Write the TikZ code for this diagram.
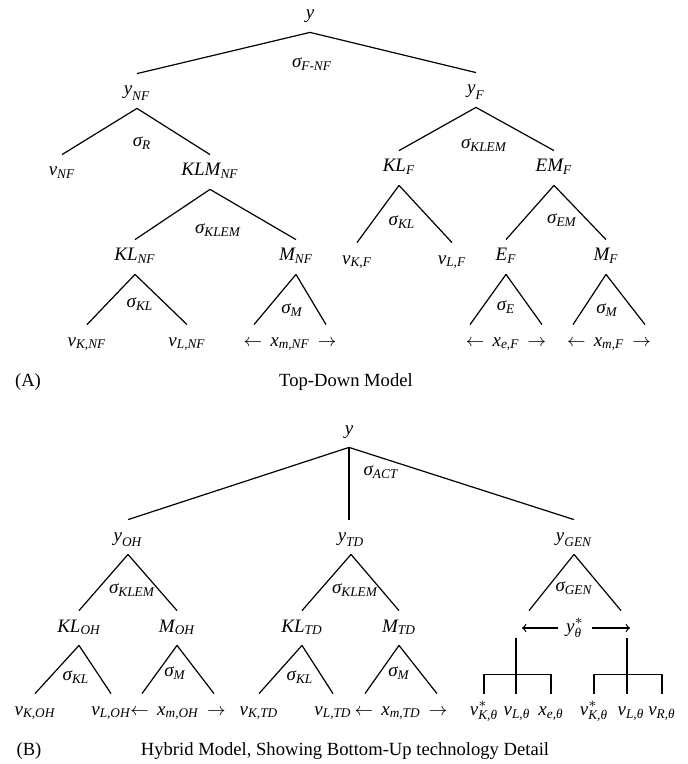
\documentclass[tikz,border=0pt]{standalone}
\usepackage{amsmath}
\usepackage{fontspec}
\setmainfont{Liberation Serif}
\usepackage{tikz}
\newcommand{\ti}[1]{\textit{#1}}
\newcommand{\lbl}[2]{$\ti{#1}_{\ti{#2}}$}
\newcommand{\sig}[1]{$\ti{σ}_{\ti{#1}}$}
\newcommand{\arr}[2]{$\leftarrow\,\ti{#1}_{\ti{#2}}\,\rightarrow$}
\tikzset{
    tree-label/.style = {inner xsep=1pt, inner ysep=3.5pt, text height=7pt, text depth=3pt, font=\fontsize{9.5}{11}\selectfont},
    sigma-label/.style = {inner sep=0pt, font=\fontsize{9.5}{11}\selectfont},
    caption-text/.style = {inner sep=0pt, font=\fontsize{9.3}{11}\selectfont},
    tree-line/.style = {line width=0.6pt},
}

\begin{document}
\begin{tikzpicture}[x=0.5pt, y=0.5pt]
\useasboundingbox (0,0) rectangle (688,-764);
% (A) top-down model
\node[tree-label] (yA) at (310,-15) {$\ti{y}$};
\node[tree-label] (yNF) at (137,-91) {\lbl{y}{NF}};
\node[tree-label] (yF) at (476,-90) {\lbl{y}{F}};
\node[tree-label] (vNF) at (62,-172) {\lbl{v}{NF}};
\node[tree-label] (KLMNF) at (210,-172) {\lbl{KLM}{NF}};
\node[tree-label] (KLNF) at (135,-257) {\lbl{KL}{NF}};
\node[tree-label] (MNF) at (296,-257) {\lbl{M}{NF}};
\node[tree-label] (vKNF) at (87,-342) {\lbl{v}{K,NF}};
\node[tree-label] (vLNF) at (187,-342) {\lbl{v}{L,NF}};
\node[tree-label] (xmNF) at (290,-342) {\arr{x}{m,NF}};
\node[tree-label] (KLF) at (399,-168) {\lbl{KL}{F}};
\node[tree-label] (EMF) at (554,-168) {\lbl{EM}{F}};
\node[tree-label] (vKF) at (357,-260) {\lbl{v}{K,F}};
\node[tree-label] (vLF) at (452,-260) {\lbl{v}{L,F}};
\node[tree-label] (EF) at (506,-257) {\lbl{E}{F}};
\node[tree-label] (MF) at (606,-257) {\lbl{M}{F}};
\node[tree-label] (xeF) at (506,-342) {\arr{x}{e,F}};
\node[tree-label] (xmF) at (609,-342) {\arr{x}{m,F}};

\node[sigma-label] at (312,-64) {\sig{F-NF}};
\node[sigma-label] at (142,-143) {\sig{R}};
\node[sigma-label] at (218,-230) {\sig{KLEM}};
\node[sigma-label] at (140,-304) {\sig{KL}};
\node[sigma-label] at (292,-310) {\sig{M}};
\node[sigma-label] at (484,-145) {\sig{KLEM}};
\node[sigma-label] at (402,-222) {\sig{KL}};
\node[sigma-label] at (562,-220) {\sig{EM}};
\node[sigma-label] at (506,-307) {\sig{E}};
\node[sigma-label] at (607,-310) {\sig{M}};

\draw[tree-line] (yA.south) -- (yNF.north);
\draw[tree-line] (yA.south) -- (yF.north);
\draw[tree-line] (yNF.south) -- (vNF.north);
\draw[tree-line] (yNF.south) -- (KLMNF.north);
\draw[tree-line] (KLMNF.south) -- (KLNF.north);
\draw[tree-line] (KLMNF.south) -- (MNF.north);
\draw[tree-line] (KLNF.south) -- (vKNF.north);
\draw[tree-line] (KLNF.south) -- (vLNF.north);
\draw[tree-line] (MNF.south) -- ([xshift=-18pt]xmNF.north);
\draw[tree-line] (MNF.south) -- ([xshift=18pt]xmNF.north);
\draw[tree-line] (yF.south) -- (KLF.north);
\draw[tree-line] (yF.south) -- (EMF.north);
\draw[tree-line] (KLF.south) -- (vKF.north);
\draw[tree-line] (KLF.south) -- (vLF.north);
\draw[tree-line] (EMF.south) -- (EF.north);
\draw[tree-line] (EMF.south) -- (MF.north);
\draw[tree-line] (EF.south) -- ([xshift=-18pt]xeF.north);
\draw[tree-line] (EF.south) -- ([xshift=18pt]xeF.north);
\draw[tree-line] (MF.south) -- ([xshift=-18pt]xmF.north);
\draw[tree-line] (MF.south) -- ([xshift=18pt]xmF.north);

\node[caption-text] (capA) at (28,-382) {(A)};
\node[caption-text] (titleA) at (346,-382) {Top-Down Model};

% (B) hybrid model
\node[tree-label] (yB) at (349,-430) {$\ti{y}$};
\node[tree-label] (yOH) at (128,-537) {\lbl{y}{OH}};
\node[tree-label] (yTD) at (351,-537) {\lbl{y}{TD}};
\node[tree-label] (yGEN) at (574,-537) {\lbl{y}{GEN}};
\node[tree-label] (KLOH) at (79,-628) {\lbl{KL}{OH}};
\node[tree-label] (MOH) at (177,-628) {\lbl{M}{OH}};
\node[tree-label] (KLTD) at (302,-628) {\lbl{KL}{TD}};
\node[tree-label] (MTD) at (399,-628) {\lbl{M}{TD}};
\node[tree-label, inner xsep=4pt] (ystar) at (575,-628) {$\ti{y}^{*}_{\ti{θ}}$};
\node[tree-label] (vKOH) at (35,-711) {\lbl{v}{K,OH}};
\node[tree-label] (vLOH) at (111,-711) {\lbl{v}{L,OH}};
\node[tree-label] (xmOH) at (178,-711) {\arr{x}{m,OH}};
\node[tree-label] (vKTD) at (259,-711) {\lbl{v}{K,TD}};
\node[tree-label] (vLTD) at (333,-711) {\lbl{v}{L,TD}};
\node[tree-label] (xmTD) at (401,-711) {\arr{x}{m,TD}};
\node[tree-label] (vsKa) at (484,-711) {$\ti{v}^{*}_{\ti{K,θ}}$};
\node[tree-label] (vLa) at (517,-711) {\lbl{v}{L,θ}};
\node[tree-label] (xea) at (551,-711) {\lbl{x}{e,θ}};
\node[tree-label] (vsKb) at (594,-711) {$\ti{v}^{*}_{\ti{K,θ}}$};
\node[tree-label] (vLb) at (631,-711) {\lbl{v}{L,θ}};
\node[tree-label] (vRb) at (662,-711) {\lbl{v}{R,θ}};
\coordinate (ystarL) at (522,-628);
\coordinate (ystarR) at (630,-628);
\coordinate (brA) at (516,-638);
\coordinate (brB) at (627,-638);

\node[sigma-label] at (381,-472) {\sig{ACT}};
\node[sigma-label] at (132,-590) {\sig{KLEM}};
\node[sigma-label] at (355,-590) {\sig{KLEM}};
\node[sigma-label] at (574,-588) {\sig{GEN}};
\node[sigma-label] at (76,-677) {\sig{KL}};
\node[sigma-label] at (175,-673) {\sig{M}};
\node[sigma-label] at (300,-677) {\sig{KL}};
\node[sigma-label] at (399,-673) {\sig{M}};

\draw[tree-line] (yB.south) -- (yOH.north);
\draw[tree-line] (yB.south) -- (yB.south |- yTD.north);
\draw[tree-line] (yB.south) -- (yGEN.north);
\draw[tree-line] (yOH.south) -- (KLOH.north);
\draw[tree-line] (yOH.south) -- (MOH.north);
\draw[tree-line] (KLOH.south) -- (vKOH.north);
\draw[tree-line] (KLOH.south) -- (vLOH.north);
\draw[tree-line] (MOH.south) -- ([xshift=-18pt]xmOH.north);
\draw[tree-line] (MOH.south) -- ([xshift=18pt]xmOH.north);
\draw[tree-line] (yTD.south) -- (KLTD.north);
\draw[tree-line] (yTD.south) -- (MTD.north);
\draw[tree-line] (KLTD.south) -- (vKTD.north);
\draw[tree-line] (KLTD.south) -- (vLTD.north);
\draw[tree-line] (MTD.south) -- ([xshift=-18pt]xmTD.north);
\draw[tree-line] (MTD.south) -- ([xshift=18pt]xmTD.north);
\draw[tree-line] (yGEN.south) -- ([xshift=-23pt]ystar.north);
\draw[tree-line] (yGEN.south) -- ([xshift=23pt]ystar.north);
\draw[tree-line, -to] (ystar) -- (ystarL);
\draw[tree-line, -to] (ystar) -- (ystarR);
\draw[tree-line] (brA) -- (brA |- vLa.north);
\draw[tree-line] (vsKa.north) -- ++(0,19) -| (xea.north);
\draw[tree-line] (brB) -- (brB |- vLb.north);
\draw[tree-line] (vsKb.north) -- ++(0,19) -| (vRb.north);

\node[caption-text] (capB) at (29,-751) {(B)};
\node[caption-text] (titleB) at (345,-751) {Hybrid Model, Showing Bottom-Up technology Detail};
\end{tikzpicture}
\end{document}
